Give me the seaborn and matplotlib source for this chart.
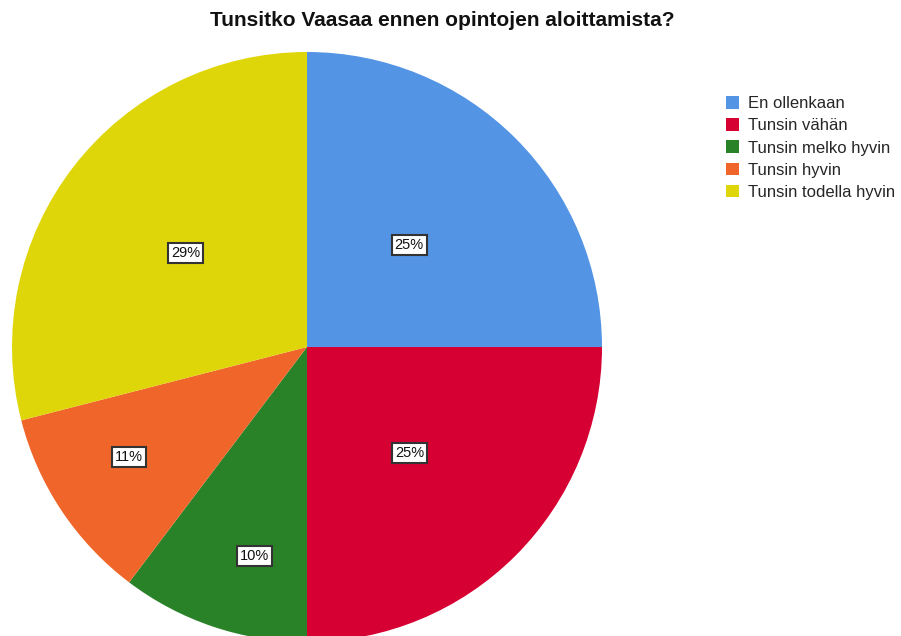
import numpy as np
import seaborn as sns
import matplotlib.pyplot as plt

# survey answers, share of respondents (%)
categories = ['En ollenkaan', 'Tunsin vähän', 'Tunsin melko hyvin',
              'Tunsin hyvin', 'Tunsin todella hyvin']
shares = [25.0, 25.0, 10.3, 10.7, 29.0]
pct_labels = ['25%', '25%', '10%', '11%', '29%']
title = 'Tunsitko Vaasaa ennen opintojen aloittamista?'

colors = ['#5394E4', '#D60032', '#2A8228', '#F0662A', '#DFD609']
# where each label sits inside its wedge: radius fraction, angular fraction
label_dist = [0.49, 0.50, 0.73, 0.71, 0.52]
label_frac = [0.5, 0.51, 0.38, 0.55, 0.5]

sns.set_theme(style='white')
plt.rcParams['font.family'] = ['Liberation Sans', 'DejaVu Sans']

fig = plt.figure(figsize=(9.01, 6.36), dpi=100)
W, H = 901, 636
cx, cy, r = 307, 347, 295
ax = fig.add_axes([(cx - r) / W, (H - cy - r) / H, 2 * r / W, 2 * r / H])

wedges, _ = ax.pie(shares, colors=colors, startangle=90, counterclock=False,
                   radius=1, wedgeprops=dict(linewidth=0))
ax.set_xlim(-1, 1)
ax.set_ylim(-1, 1)
ax.set_aspect('equal')
ax.axis('off')

for w, lab, d, f in zip(wedges, pct_labels, label_dist, label_frac):
    # clockwise pie: theta2 is the wedge start, theta1 its end
    ang = np.deg2rad(w.theta2 + f * (w.theta1 - w.theta2))
    ax.text(d * np.cos(ang), d * np.sin(ang), lab, ha='center', va='center',
            fontsize=10.5, color='#111111',
            bbox=dict(boxstyle='square,pad=0.2', fc='white', ec='#333333', lw=1.5))

fig.text(442 / W, 1 - 21 / H, title, ha='center', va='center',
         fontsize=15, fontweight='bold', color='#111111')

fig.legend(wedges, categories, loc='upper left', bbox_to_anchor=(726 / W, 1 - 96 / H),
           frameon=False, fontsize=12, handlelength=0.8, handleheight=0.8,
           handletextpad=0.5, labelspacing=0.42, borderpad=0, borderaxespad=0)

fig.savefig('out.png', dpi=100)
